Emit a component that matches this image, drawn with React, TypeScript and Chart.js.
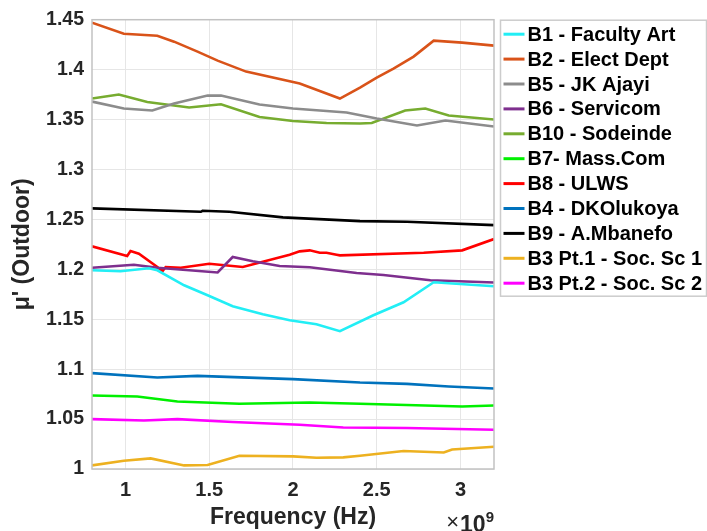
import { useEffect, useRef } from "react";
import { Chart, registerables } from "chart.js";

Chart.register(...registerables);

// Frequency values are in units of 10^9 Hz (axis shows ×10^9)
const b1Freq = [0.8, 0.97, 1.14, 1.19, 1.35, 1.49, 1.64, 1.82, 1.98, 2.14, 2.28, 2.48, 2.66, 2.84, 3.2];
const b1Mu = [1.199, 1.198, 1.201, 1.199, 1.184, 1.174, 1.163, 1.155, 1.149, 1.145, 1.138, 1.154, 1.167, 1.187, 1.183];

const b2Freq = [0.8, 0.99, 1.19, 1.29, 1.43, 1.55, 1.72, 2.04, 2.28, 2.4, 2.5, 2.6, 2.72, 2.84, 3.01, 3.2];
const b2Mu = [1.447, 1.436, 1.434, 1.428, 1.418, 1.409, 1.398, 1.386, 1.371, 1.382, 1.392, 1.401, 1.413, 1.429, 1.427, 1.424];

const b5Freq = [0.8, 0.99, 1.16, 1.29, 1.49, 1.57, 1.8, 2.0, 2.32, 2.5, 2.74, 2.91, 3.2];
const b5Mu = [1.368, 1.361, 1.359, 1.366, 1.374, 1.374, 1.365, 1.361, 1.357, 1.351, 1.344, 1.349, 1.343];

const b6Freq = [0.8, 1.05, 1.19, 1.55, 1.64, 1.76, 1.92, 2.1, 2.38, 2.54, 2.82, 3.2];
const b6Mu = [1.2016, 1.2046, 1.2016, 1.1968, 1.2123, 1.208, 1.2033, 1.202, 1.1963, 1.1943, 1.189, 1.1868];

const b10Freq = [0.8, 0.96, 1.13, 1.38, 1.57, 1.8, 2.0, 2.2, 2.4, 2.47, 2.67, 2.79, 2.93, 3.2];
const b10Mu = [1.371, 1.375, 1.3676, 1.362, 1.3653, 1.3526, 1.3486, 1.3466, 1.346, 1.3466, 1.359, 1.361, 1.354, 1.35];

const b7Freq = [0.8, 1.07, 1.31, 1.68, 2.1, 2.4, 3.01, 3.2];
const b7Mu = [1.0736, 1.0726, 1.0676, 1.0653, 1.0666, 1.0653, 1.0626, 1.0636];

const b8Freq = [0.8, 1.01, 1.03, 1.08, 1.19, 1.22, 1.24, 1.33, 1.5, 1.7, 1.98, 2.04, 2.1, 2.16, 2.2, 2.26, 2.28, 2.78, 3.01, 3.2];
const b8Mu = [1.223, 1.2133, 1.2183, 1.2156, 1.2023, 1.198, 1.2023, 1.2016, 1.2056, 1.2023, 1.2146, 1.218, 1.219, 1.2166, 1.2166, 1.2146, 1.214, 1.2166, 1.219, 1.2303];

const b4Freq = [0.8, 1.19, 1.43, 2.0, 2.4, 2.68, 2.93, 3.2];
const b4Mu = [1.096, 1.0916, 1.0933, 1.09, 1.0866, 1.0853, 1.0826, 1.0806];

const b9Freq = [0.8, 1.45, 1.46, 1.62, 1.94, 2.4, 2.68, 3.2];
const b9Mu = [1.261, 1.2576, 1.2586, 1.2576, 1.252, 1.2483, 1.2476, 1.2443];

const b3p1Freq = [0.8, 0.99, 1.15, 1.35, 1.49, 1.68, 2.0, 2.14, 2.3, 2.4, 2.66, 2.9, 2.95, 3.2];
const b3p1Mu = [1.0036, 1.0083, 1.0106, 1.0036, 1.004, 1.0133, 1.0126, 1.0113, 1.0116, 1.0133, 1.018, 1.0166, 1.0196, 1.0223];

const b3p2Freq = [0.8, 1.11, 1.31, 1.64, 2.04, 2.3, 2.68, 3.2];
const b3p2Mu = [1.05, 1.0486, 1.05, 1.047, 1.0443, 1.0416, 1.041, 1.0393];

const seriesLabels = [
  "B1 - Faculty Art",
  "B2 - Elect Dept",
  "B5 - JK Ajayi",
  "B6 - Servicom",
  "B10 - Sodeinde",
  "B7- Mass.Com",
  "B8 - ULWS",
  "B4 - DKOlukoya",
  "B9 - A.Mbanefo",
  "B3 Pt.1 - Soc. Sc 1",
  "B3 Pt.2 - Soc. Sc 2",
];
const seriesColors = [
  "#22EEF5",
  "#D95319",
  "#8C8C8C",
  "#7E2F8E",
  "#77AC30",
  "#00F000",
  "#FF0000",
  "#0072BD",
  "#000000",
  "#EDB120",
  "#FF00FF",
];
const seriesFreqs = [b1Freq, b2Freq, b5Freq, b6Freq, b10Freq, b7Freq, b8Freq, b4Freq, b9Freq, b3p1Freq, b3p2Freq];
const seriesMus = [b1Mu, b2Mu, b5Mu, b6Mu, b10Mu, b7Mu, b8Mu, b4Mu, b9Mu, b3p1Mu, b3p2Mu];

const xTickValues = [1, 1.5, 2, 2.5, 3];
const yTickValues = [1, 1.05, 1.1, 1.15, 1.2, 1.25, 1.3, 1.35, 1.4, 1.45];

const FONT = "'Liberation Sans', Arial, Helvetica, sans-serif";

const decorPlugin = {
  id: "decor",
  beforeDraw(chart: any) {
    const { ctx, width, height } = chart;
    ctx.save();
    ctx.fillStyle = "#ffffff";
    ctx.fillRect(0, 0, width, height);
    ctx.restore();
  },
  afterDraw(chart: any) {
    const { ctx } = chart;
    const { left, right, top, bottom } = chart.chartArea;
    ctx.save();
    // axes box
    ctx.strokeStyle = "#c2c2c2";
    ctx.lineWidth = 1.5;
    ctx.strokeRect(left, top, right - left, bottom - top);

    // exponent label ×10^9
    ctx.fillStyle = "#262626";
    ctx.textBaseline = "alphabetic";
    ctx.textAlign = "right";
    ctx.font = `bold 15px ${FONT}`;
    ctx.fillText("9", right, 522);
    const w9 = ctx.measureText("9").width;
    ctx.font = `bold 23px ${FONT}`;
    ctx.fillText("10", right - w9, 532);
    const w10 = ctx.measureText("10").width;
    ctx.font = `22px ${FONT}`;
    ctx.fillText("×", right - w9 - w10 - 1, 529);

    // legend
    const lx = right + 6.5;
    const ly = top + 0.5;
    const lw = 206;
    const lh = 276;
    ctx.fillStyle = "#ffffff";
    ctx.fillRect(lx, ly, lw, lh);
    ctx.strokeStyle = "#cccccc";
    ctx.lineWidth = 1.5;
    ctx.strokeRect(lx, ly, lw, lh);
    ctx.font = `bold 20px ${FONT}`;
    ctx.textAlign = "left";
    ctx.textBaseline = "middle";
    seriesLabels.forEach((label, i) => {
      const cy = top + 14.5 + 24.9 * i;
      ctx.strokeStyle = seriesColors[i];
      ctx.lineWidth = 3;
      ctx.beginPath();
      ctx.moveTo(lx + 3, cy);
      ctx.lineTo(lx + 24, cy);
      ctx.stroke();
      ctx.fillStyle = "#000000";
      ctx.fillText(label, lx + 27, cy + 1);
    });
    ctx.restore();
  },
};

export default function App() {
  const canvasRef = useRef<HTMLCanvasElement | null>(null);

  useEffect(() => {
    if (!canvasRef.current) return;
    const datasets = seriesLabels.map((label, i) => ({
      label,
      data: seriesFreqs[i].map((f, j) => ({ x: f, y: seriesMus[i][j] })),
      borderColor: seriesColors[i],
      backgroundColor: seriesColors[i],
      borderWidth: 2.6,
      pointRadius: 0,
      tension: 0,
      fill: false,
    }));
    const chart = new Chart(canvasRef.current, {
      type: "line",
      data: { datasets },
      options: {
        animation: false,
        responsive: false,
        devicePixelRatio: 1,
        layout: { padding: { top: 19, right: 213, left: 0, bottom: 0 } },
        plugins: {
          legend: { display: false },
          tooltip: { enabled: false },
        },
        scales: {
          x: {
            type: "linear",
            min: 0.8,
            max: 3.2,
            afterBuildTicks: (scale: any) => {
              scale.ticks = xTickValues.map((v) => ({ value: v }));
            },
            afterFit: (scale: any) => {
              scale.height = 62;
            },
            grid: { color: "#e6e6e6", lineWidth: 1, drawTicks: false },
            border: { display: false },
            ticks: {
              padding: 9,
              color: "#262626",
              font: { family: FONT, size: 20, weight: "bold" },
              callback: (v: any) => String(Number(Number(v).toFixed(2))),
            },
            title: {
              display: true,
              text: "Frequency (Hz)",
              color: "#262626",
              font: { family: FONT, size: 23, weight: "bold" },
              padding: { top: 0, bottom: 0 },
            },
          },
          y: {
            type: "linear",
            min: 1,
            max: 1.45,
            afterBuildTicks: (scale: any) => {
              scale.ticks = yTickValues.map((v) => ({ value: v }));
            },
            afterFit: (scale: any) => {
              scale.width = 92;
            },
            grid: { color: "#e6e6e6", lineWidth: 1, drawTicks: false },
            border: { display: false },
            ticks: {
              padding: 8,
              color: "#262626",
              font: { family: FONT, size: 19.5, weight: "bold" },
              callback: (v: any) => String(Number(Number(v).toFixed(2))),
            },
            title: {
              display: true,
              text: "μ' (Outdoor)",
              color: "#262626",
              font: { family: FONT, size: 23, weight: "bold" },
              padding: { top: 9, bottom: 0 },
            },
          },
        },
      },
      plugins: [decorPlugin],
    });
    return () => chart.destroy();
  }, []);

  return (
    <div style={{ position: "absolute", left: 0, top: 0, width: 707, height: 531 }}>
      <canvas ref={canvasRef} width={707} height={531} style={{ width: 707, height: 531, display: "block" }} />
    </div>
  );
}
